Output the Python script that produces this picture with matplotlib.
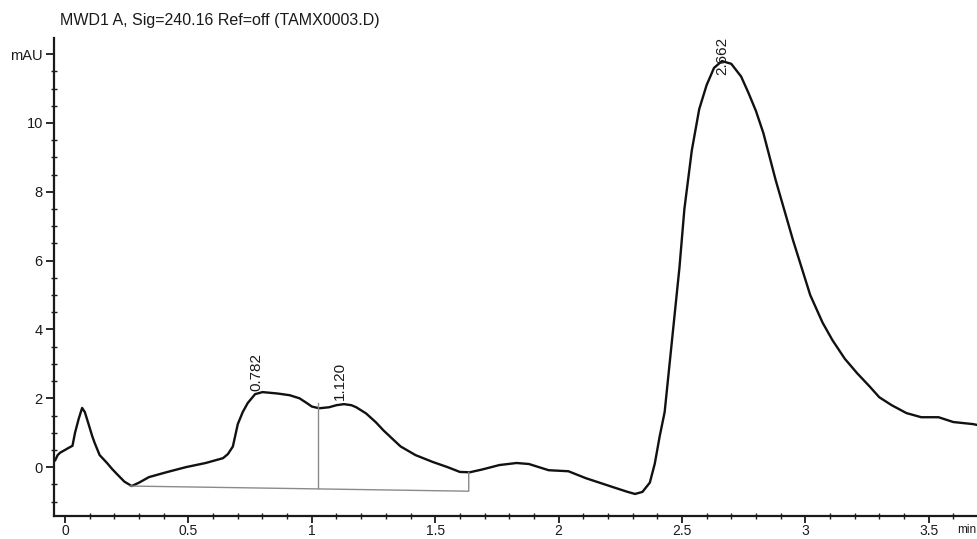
import matplotlib.pyplot as plt
import numpy as np
from matplotlib.ticker import MultipleLocator


plt.rcParams['font.family'] = ['Liberation Sans', 'DejaVu Sans']

# chromatogram trace (min, mAU)
time = [-0.04, -0.03, -0.02, 0.0, 0.012, 0.03, 0.04, 0.055, 0.069, 0.08, 0.093,
        0.11, 0.12, 0.14, 0.17, 0.19, 0.21, 0.24, 0.27, 0.30, 0.34, 0.41,
        0.49, 0.57, 0.64, 0.66, 0.68, 0.70, 0.72, 0.74, 0.77, 0.80, 0.86,
        0.91, 0.95, 0.98, 1.00, 1.03, 1.07, 1.10, 1.13, 1.16, 1.18, 1.22,
        1.26, 1.29, 1.33, 1.36, 1.42, 1.49, 1.55, 1.60, 1.64, 1.69, 1.76,
        1.83, 1.88, 1.96, 2.04, 2.11, 2.22, 2.28, 2.31, 2.34, 2.37, 2.39,
        2.41, 2.43, 2.45, 2.47, 2.49, 2.51, 2.54, 2.57, 2.60, 2.63, 2.662,
        2.70, 2.74, 2.77, 2.80, 2.83, 2.88, 2.95, 3.02, 3.07, 3.11, 3.16, 3.21,
        3.26, 3.30, 3.35, 3.41, 3.47, 3.54, 3.60, 3.68, 3.70]
signal = [0.2, 0.35, 0.42, 0.5, 0.55, 0.62, 0.99, 1.4, 1.72, 1.6, 1.3,
          0.9, 0.7, 0.35, 0.12, -0.05, -0.2, -0.42, -0.55, -0.45, -0.29, -0.15,
          0.0, 0.12, 0.26, 0.38, 0.6, 1.25, 1.6, 1.86, 2.12, 2.18, 2.14,
          2.09, 2.0, 1.86, 1.76, 1.71, 1.74, 1.8, 1.83, 1.8, 1.74, 1.56,
          1.3, 1.07, 0.8, 0.6, 0.35, 0.15, 0.0, -0.14, -0.15, -0.07, 0.06,
          0.12, 0.09, -0.09, -0.12, -0.32, -0.58, -0.72, -0.78, -0.72, -0.45, 0.1,
          0.9, 1.6, 3.0, 4.4, 5.8, 7.5, 9.2, 10.4, 11.1, 11.6, 11.8,
          11.72, 11.35, 10.87, 10.35, 9.71, 8.34, 6.6, 5.0, 4.2, 3.69, 3.15, 2.73,
          2.35, 2.03, 1.8, 1.57, 1.45, 1.45, 1.31, 1.25, 1.22]

# integration baseline and drop line
base_x = [0.263, 1.636, 1.636]
base_y = [-0.55, -0.70, -0.15]
drop_x = [1.024, 1.024]
drop_y = [-0.61, 1.86]

peak_lbl = ['0.782', '1.120', '2.662']
peak_ly = [2.2, 1.95, 11.4]
peak_lx = [0.777, 1.113, 2.662]

xticks = [0, 0.5, 1, 1.5, 2, 2.5, 3, 3.5]
xticklabels = ['0', '0.5', '1', '1.5', '2', '2.5', '3', '3.5']
yticks = [0, 2, 4, 6, 8, 10, 12]
yticklabels = ['0', '2', '4', '6', '8', '10', 'mAU']


fig = plt.figure(figsize=(9.78, 5.39), dpi=100)
ax = fig.add_axes([0.0552, 0.0427, 0.9448, 0.8868])

ax.plot(time, signal, color='#111111', lw=1.7, solid_joinstyle='round')
ax.plot(base_x, base_y, color='#8a8a8a', lw=1.0)
ax.plot(drop_x, drop_y, color='#8a8a8a', lw=1.0)

for x, y, s in zip(peak_lx, peak_ly, peak_lbl):
	ax.text(x, y, s, rotation=90, ha='center', va='bottom', fontsize=11,
	        color='#1a1a1a', clip_on=False)

ax.set_xlim(-0.045, 3.70)
ax.set_ylim(-1.42, 12.47)

ax.set_xticks(xticks)
ax.set_xticklabels(xticklabels)
ax.set_yticks(yticks)
ax.set_yticklabels(yticklabels)
ax.xaxis.set_minor_locator(MultipleLocator(0.1))
ax.yaxis.set_minor_locator(MultipleLocator(0.5))

ax.tick_params(which='major', direction='out', length=6, width=1.3,
               labelsize=10.5, colors='#1a1a1a', pad=2)
ax.tick_params(axis='x', which='major', length=5, labelsize=10, pad=0.5)
ax.tick_params(which='minor', direction='inout', length=4, width=1.0,
               colors='#1a1a1a')

for side in ['top', 'right']:
	ax.spines[side].set_visible(False)
for side in ['left', 'bottom']:
	ax.spines[side].set_linewidth(1.6)
	ax.spines[side].set_color('#1a1a1a')

fig.text(0.061, 0.962, 'MWD1 A, Sig=240.16 Ref=off (TAMX0003.D)', fontsize=11.5,
         color='#1a1a1a', va='center')
fig.text(0.998, 0.006, 'min', fontsize=8.5, color='#1a1a1a', ha='right',
         va='bottom')

fig.savefig('out.png', dpi=100)
